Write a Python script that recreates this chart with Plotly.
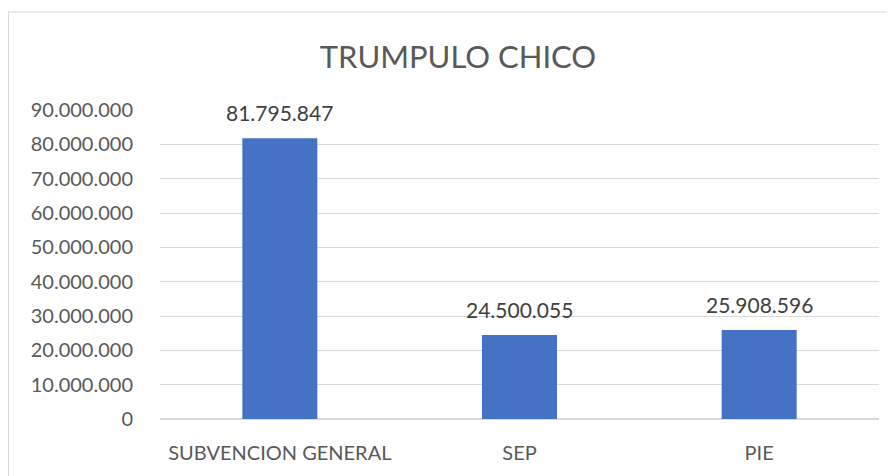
import plotly.graph_objects as go

categories = ["SUBVENCION GENERAL", "SEP", "PIE"]
values = [81795847, 24500055, 25908596]
tick_vals = [0, 10000000, 20000000, 30000000, 40000000, 50000000,
             60000000, 70000000, 80000000, 90000000]

font = "Lato, 'Open Sans', sans-serif"
grey = "#595959"

# page body adds an 8px margin, so the figure is sized to fit inside it
W, H = 887, 468
L, R, T, B = 152, 16, 102, 54
pw, ph = W - L - R, H - T - B


def fmt(v):
    return f"{v:,d}".replace(",", ".")


fig = go.Figure(go.Bar(
    x=categories,
    y=values,
    marker=dict(color="#4472C4", line=dict(width=0)),
    width=0.313,
    hoverinfo="skip",
))

for c, v in zip(categories, values):
    fig.add_annotation(
        x=c, y=v, text=fmt(v),
        showarrow=False, yanchor="bottom", yshift=11,
        font=dict(size=21, color="#404040", family=font),
    )

fig.update_layout(
    width=W,
    height=H,
    separators=",.",
    paper_bgcolor="white",
    plot_bgcolor="white",
    margin=dict(l=L, r=R, t=T, b=B),
    title=dict(
        text="TRUMPULO CHICO",
        xref="container",
        x=450 / W,
        xanchor="center",
        yref="container",
        y=1 - 49 / H,
        yanchor="middle",
        font=dict(size=31, color=grey, family=font),
    ),
    showlegend=False,
    font=dict(family=font, color=grey),
    xaxis=dict(
        showgrid=False,
        showline=False,
        tickfont=dict(size=20, color=grey, family=font),
        ticks="outside",
        ticklen=16,
        tickcolor="rgba(0,0,0,0)",
    ),
    yaxis=dict(
        range=[0, 90000000],
        tickvals=tick_vals,
        tickformat=",d",
        showgrid=True,
        gridcolor="#D9D9D9",
        gridwidth=1,
        zeroline=True,
        zerolinecolor="#D9D9D9",
        zerolinewidth=1.5,
        showline=False,
        tickfont=dict(size=20, color=grey, family=font),
        ticks="outside",
        ticklen=22,
        tickcolor="rgba(0,0,0,0)",
    ),
    shapes=[dict(
        type="rect",
        xref="paper", yref="paper",
        x0=(0.5 - L) / pw, x1=(W + 5 - L) / pw,
        y0=-(B + 5) / ph, y1=1 + (T - 3) / ph,
        line=dict(color="#D9D9D9", width=1),
        fillcolor="rgba(0,0,0,0)",
        layer="below",
    )],
)

fig.write_html("out.html")
